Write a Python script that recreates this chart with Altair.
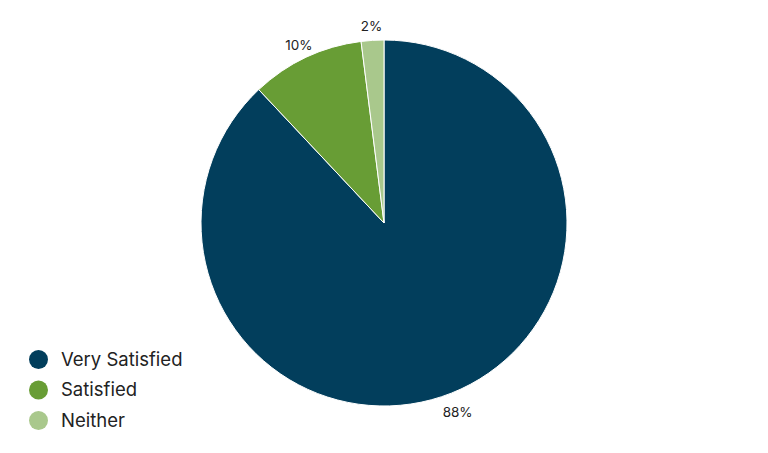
import altair as alt
import pandas as pd

categories = ["Very Satisfied", "Satisfied", "Neither"]
values = [88, 10, 2]
labels = ["88%", "10%", "2%"]
colors = ["#023e5c", "#689d35", "#a9c88c"]

df = pd.DataFrame({"category": categories, "value": values, "label": labels, "order": [0, 1, 2]})

base = alt.Chart(df).encode(
    theta=alt.Theta("value:Q", stack=True),
    order=alt.Order("order:Q"),
)

pie = base.mark_arc(outerRadius=183, stroke="white", strokeWidth=1).encode(
    x=alt.value(376),
    y=alt.value(215),
    color=alt.Color(
        "category:N",
        scale=alt.Scale(domain=categories, range=colors),
        sort=categories,
        legend=alt.Legend(
            title=None,
            orient="none",
            legendX=21,
            legendY=342,
            symbolType="circle",
            symbolSize=360,
            symbolStrokeWidth=0,
            labelFontSize=18.5,
            labelFont="Inter",
            labelColor="#222222",
            labelOffset=13,
            rowPadding=11.5,
        ),
    ),
)

text = base.mark_text(radius=200, dy=4, fontSize=13.5, font="Inter", color="#222222", baseline="middle", align="center").encode(
    x=alt.value(376),
    y=alt.value(215),
    text="label:N",
)

chart = (pie + text).properties(
    width=752, height=437, autosize=alt.AutoSizeParams(type="none"), padding=0
).configure_view(stroke=None)

chart.save("out.html", embed_options={"renderer": "svg", "actions": False})
